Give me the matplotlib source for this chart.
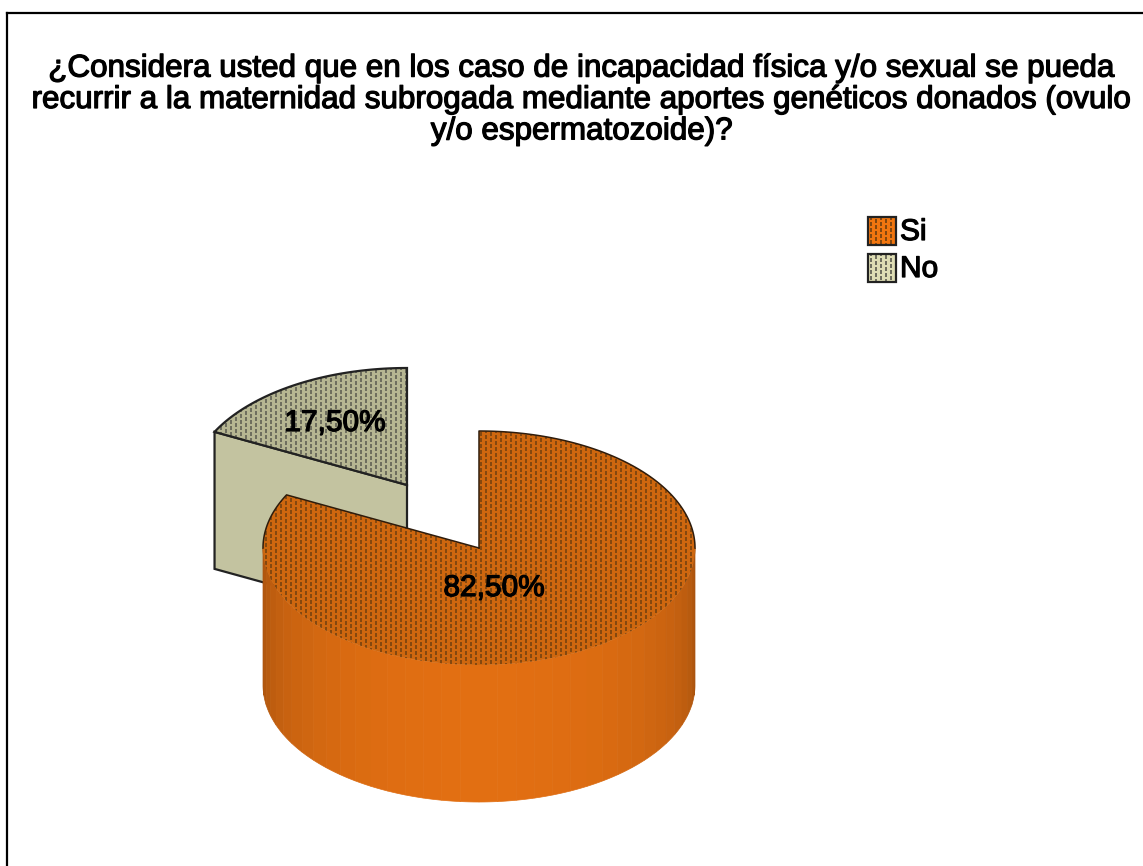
import numpy as np
import matplotlib
matplotlib.use("Agg")
from matplotlib import pyplot as plt
from matplotlib.colors import to_rgb
from matplotlib.patches import Polygon
import matplotlib.patheffects as pe

title = ("¿Considera usted que en los caso de incapacidad física y/o sexual se pueda\n"
         "recurrir a la maternidad subrogada mediante aportes genéticos donados (ovulo\n"
         "y/o espermatozoide)?")
labels = ["Si", "No"]
shares = [82.5, 17.5]
value_labels = ["82,50%", "17,50%"]

top_colors = ["#CE670F", "#B6B692"]
dot_colors = ["#84480F", "#6E6E5E"]
side_colors = ["#E26F12", "#C3C3A0"]
swatch_colors = ["#F2760F", "#DEDDB4"]

W, H = 1143, 866
RX, RY = 216, 117
DEPTH = 137
SI_CENTER = (479, 548)
NO_CENTER = (407, 485)

plt.rcParams["font.family"] = ["Liberation Sans", "DejaVu Sans"]

fig = plt.figure(figsize=(W / 100, H / 100), dpi=100)
ax = fig.add_axes([0, 0, 1, 1])
ax.set_xlim(0, W)
ax.set_ylim(H, 0)
ax.axis("off")

heavy = [pe.withStroke(linewidth=0.9, foreground="black")]


def ellipse_pts(center, t0, t1, n=200):
    t = np.radians(np.linspace(t0, t1, n))
    return np.column_stack([center[0] + RX * np.cos(t), center[1] - RY * np.sin(t)])


# staggered dark dots, clipped to a slice's top face
def dotted_face(poly, base, dot, zorder):
    x0, y0 = poly.min(axis=0).astype(int) - 2
    x1, y1 = poly.max(axis=0).astype(int) + 3
    yy, xx = np.mgrid[y0:y1, x0:x1]
    img = np.ones(xx.shape + (3,)) * np.array(to_rgb(base))
    col = xx % 10
    row = (yy + 3 * (col >= 5)) % 6
    mask = (col % 5 < 2) & (row < 4)
    img[mask] = np.array(to_rgb(dot))
    im = ax.imshow(img, extent=(x0, x1, y1, y0), interpolation="bilinear", aspect="auto", zorder=zorder)
    im.set_clip_path(Polygon(poly, closed=True, transform=ax.transData))
    ax.set_xlim(0, W)
    ax.set_ylim(H, 0)


# slice angles run clockwise from twelve o'clock
si_end = 90 - 360 * shares[0] / 100
no_end = 90 + 360 * shares[1] / 100

# "No" slice, pulled out from the pie
cx, cy = NO_CENTER
rim_pt = ellipse_pts(NO_CENTER, no_end, no_end, 1)[0]
cut = np.array([rim_pt, [cx, cy], [cx, cy + DEPTH], rim_pt + [0, DEPTH]])
ax.add_patch(Polygon(cut, closed=True, fc=side_colors[1], ec="#222222", lw=1.6, zorder=2))
no_top = np.vstack([[NO_CENTER], ellipse_pts(NO_CENTER, 90, no_end)])
dotted_face(no_top, top_colors[1], dot_colors[1], 3)
ax.add_patch(Polygon(no_top, closed=True, fc="none", ec="#222222", lw=1.6, zorder=4))

# "Si" slice: shaded outer wall drawn as thin vertical strips
strip_t = np.linspace(180, 360, 37)
for t0, t1 in zip(strip_t[:-1], strip_t[1:]):
    arc = ellipse_pts(SI_CENTER, t0, t1, 8)
    wall = np.vstack([arc, (arc + [0, DEPTH])[::-1]])
    mid = np.radians((t0 + t1) / 2)
    shade = 0.72 + 0.28 * abs(np.sin(mid)) ** 0.7
    col = np.array(to_rgb(side_colors[0])) * shade
    ax.add_patch(Polygon(wall, closed=True, fc=col, ec=col, lw=0.5, zorder=5))

si_top = np.vstack([[SI_CENTER], ellipse_pts(SI_CENTER, 90, si_end)])
dotted_face(si_top, top_colors[0], dot_colors[0], 6)

# rim and cut edges only, the front of the rim has no line
upper = np.vstack([[SI_CENTER], ellipse_pts(SI_CENTER, 90, 0, 100)])
lower = np.vstack([[SI_CENTER], ellipse_pts(SI_CENTER, no_end, 180, 30)])
ax.plot(upper[:, 0], upper[:, 1], color="#2E1C0C", lw=1.1, zorder=7)
ax.plot(lower[:, 0], lower[:, 1], color="#2E1C0C", lw=1.1, zorder=7)

ax.text(494, 588, value_labels[0], ha="center", va="center", fontsize=21.5, color="black",
        zorder=8, path_effects=heavy)
ax.text(335, 423, value_labels[1], ha="center", va="center", fontsize=21.5, color="black",
        zorder=8, path_effects=heavy)

ax.text(582, 100, title, ha="center", va="center", fontsize=22.6,
        linespacing=1.06, color="black", zorder=8, path_effects=heavy)

# legend swatches
for i, (lab, y) in enumerate(zip(labels, [231, 268])):
    box = np.array([[868, y - 14], [896, y - 14], [896, y + 14], [868, y + 14]])
    dotted_face(box, swatch_colors[i], dot_colors[i], 3)
    ax.add_patch(Polygon(box, closed=True, fc="none", ec="#222222", lw=1.6, zorder=4))
    ax.text(900, y + 1, lab, ha="left", va="center", fontsize=21.5, color="black", path_effects=heavy)

# outer frame, open at the right and bottom
ax.plot([7, 7], [H, 13], color="black", lw=1.6, zorder=9)
ax.plot([7, W], [13, 13], color="black", lw=1.6, zorder=9)

fig.savefig("out.png", dpi=100, facecolor="white")
